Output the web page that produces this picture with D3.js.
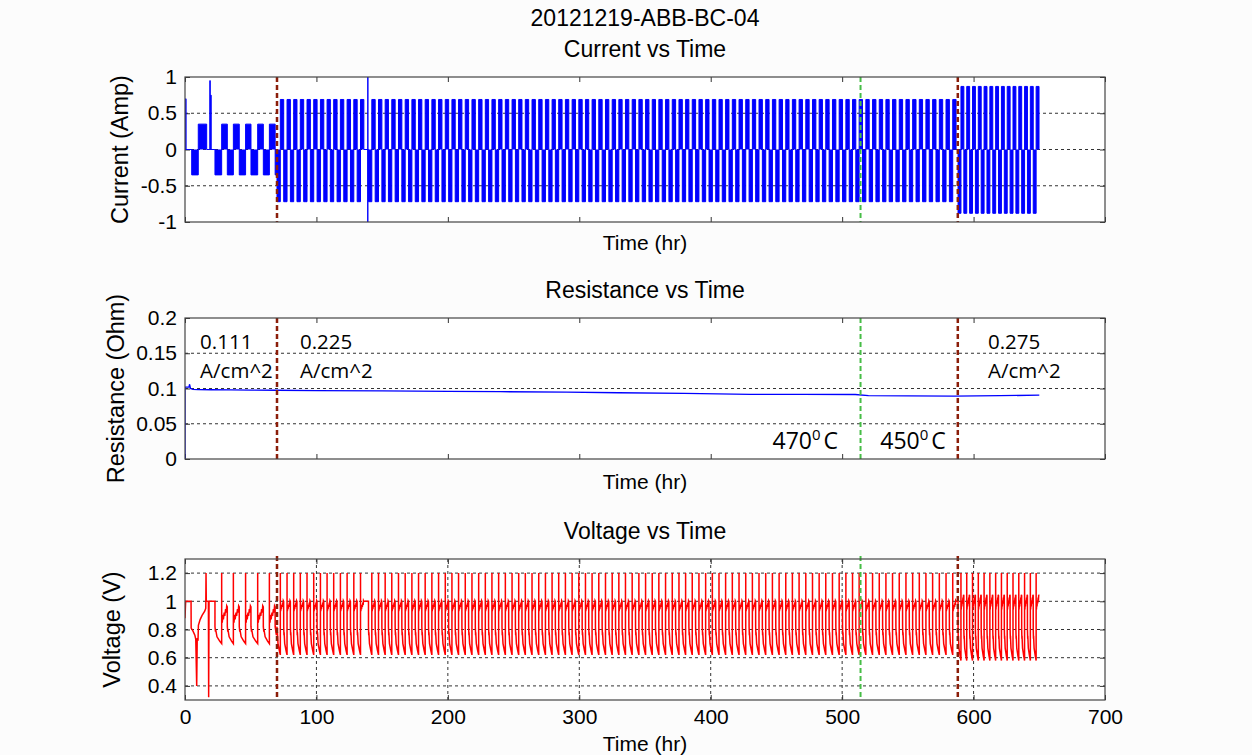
<!DOCTYPE html>
<html>
<head>
<meta charset="utf-8">
<script src="https://cdn.jsdelivr.net/npm/d3@7"></script>
<style>
body{margin:0;background:#fcfcfc;}
svg text{font-family:Arial,"Liberation Sans",sans-serif;fill:#000;}
.tick text{font-size:21px;}
.tick line{stroke:#333;}
.grid line{stroke:#333;stroke-dasharray:3,3;stroke-width:1;}
.ann{font-family:"Open Sans",sans-serif !important;font-size:20.5px;}
.temp{font-family:"Open Sans",sans-serif !important;font-size:23px;}
</style>
</head>
<body>
<div id="canvas"></div>
<script>
// ---- data ----
var figTitle = '20121219-ABB-BC-04';
var hrTicks = [0,100,200,300,400,500,600,700];
var ampTicks = [-1,-0.5,0,0.5,1];
var ohmTicks = [0,0.05,0.1,0.15,0.2];
var voltTicks = [0.4,0.6,0.8,1,1.2];

// dashed markers: current density / temperature changes
var markerHr = [70, 514, 588];
var markerColor = ['#8b1e0a', '#46bd46', '#8b1e0a'];

var densityText = ['0.111','0.225','0.275'];
var densityHr = [11.5, 87.5, 611];
var tempText = ['470','450'];
var tempHr = [447, 529];

// first 22.8 hr, irregular start-up [hr, amp]
var earlyCurrent = [[0,0],[0.5,0.7],[0.8,0],[5.1,-0.35],[10.1,0.35],[16.5,0],[18.9,0.95],[19.2,0],[19.6,0.75],[19.9,0]];
// first 22.8 hr voltage [hr, V]
var earlyVolt = [[0,0.88],[0.5,1.0],[4.6,1.0],[4.7,0.81],[6,0.79],[7.5,0.76],[8.2,0.73],[8.9,0.4],[9.3,0.74],[9.9,0.72],
  [10.2,0.83],[11.5,0.87],[13,0.9],[15,0.93],[15.8,0.95],[16.0,1.2],[16.2,1.0],[17.8,1.0],[18.0,0.32],[18.3,1.0],[22.8,1.0]];

// phase 1 (0.111 A/cm^2) cycles: start of negative half, start of positive half
var p1NegStart = [22.8, 32.2, 41.3, 50.2, 59.6];
var p1PosStart = [27.9, 36.8, 46.1, 55.3, 64.2];

// phase 2 (0.225 A/cm^2) cycle starts
var p2Start = [70.0,75.1,80.2,85.2,90.3,95.4,100.5,105.6,110.6,115.7,120.8,125.9,131.0,
  139.6,144.7,149.8,154.8,159.9,165.0,170.1,175.2,180.2,185.3,190.4,195.5,200.6,205.6,210.7,215.8,220.9,
  226.0,231.0,236.1,241.2,246.3,251.4,256.4,261.5,266.6,271.7,276.8,281.8,286.9,292.0,297.1,302.2,307.2,
  312.3,317.4,322.5,327.6,332.6,337.7,342.8,347.9,353.0,358.0,363.1,368.2,373.3,378.4,383.4,388.5,393.6,
  398.7,403.8,408.8,413.9,419.0,424.1,429.2,434.2,439.3,444.4,449.5,454.6,459.6,464.7,469.8,474.9,480.0,
  485.0,490.1,495.2,500.3,505.4,510.4,515.5,520.6,525.7,530.8,535.8,540.9,546.0,551.1,556.2,561.2,566.3,
  571.4,576.5,581.6];
// phase 3 (0.275 A/cm^2) cycle starts
var p3Start = [588.2,592.6,597.0,601.4,605.8,610.2,614.6,619.0,623.4,627.8,632.2,636.6,641.0,645.4];
var runEnd = 649.8;

var phasePeriod = [9.2, 5.08, 4.4];
var phaseAmp = [[-0.35,0.35],[-0.72,0.69],[-0.88,0.87]];
var negVolt = [[0.82,0.70],[0.82,0.62],[0.80,0.58]];   // start, end of low half
var posVolt = [[0.88,0.96],[0.95,1.0],[0.97,1.04]];    // start, end of high half
var spikeVolt = 1.2, restVolt = 1.0;
// shape of each half-cycle [fraction of half, fraction of swing]
var negShape = [[0,0],[0.08,0.3],[0.12,0.2],[0.3,0.6],[0.5,0.72],[0.7,0.85],[0.9,0.95],[1,1]];
var posShape = [[0,0],[0.1,-0.4],[0.2,0.3],[0.3,-0.1],[0.45,0.5],[0.55,0.2],[0.7,0.8],[0.8,0.5],[0.9,1.1],[1,1]];

// odd events
var spikeCurrent = [[139.0,0],[139.05,-1.3],[139.1,1.3],[139.15,0]];

var resistance = [[0,0],[0,0.102],[3,0.102],[3.5,0.106],[4.2,0.1],[6,0.0988],[10,0.0985],[20,0.0982],[35,0.098],
  [50,0.0978],[70,0.0975],[100,0.097],[150,0.0965],[200,0.096],[240,0.0955],[290,0.0948],[330,0.094],[380,0.093],
  [430,0.0918],[470,0.0917],[510,0.0915],[520,0.0898],[550,0.0895],[585,0.0893],[620,0.0898],[650,0.0905]];

// ---- build the series from the cycles ----
var current = earlyCurrent.slice(), voltage = earlyVolt.slice();

function addCycle(t0, t1, t2, ph){
  current.push([t0, phaseAmp[ph][0]], [t1, phaseAmp[ph][1]]);
  var nv = negVolt[ph], pv = posVolt[ph];
  negShape.forEach(function(s){ voltage.push([t0 + s[0]*(t1-t0), nv[0] - s[1]*(nv[0]-nv[1])]); });
  voltage.push([t1, spikeVolt]);
  posShape.forEach(function(s){ voltage.push([t1 + 0.02 + s[0]*(t2-t1-0.04), pv[0] + s[1]*(pv[1]-pv[0])]); });
}

p1NegStart.forEach(function(t, i){
  var end = i < p1NegStart.length-1 ? p1NegStart[i+1] : 68.6;
  addCycle(t, p1PosStart[i], end, 0);
});
// partial negative half before phase 2
current.push([68.6, -0.35]);
voltage.push([68.6, 0.82],[69.5, 0.76]);

function addPhase(starts, next, ph){
  var T = phasePeriod[ph];
  starts.forEach(function(t, i){
    var n = i < starts.length-1 ? starts[i+1] : next;
    var end = Math.min(n, t + T);
    addCycle(t, t + (end-t)/2, end, ph);
    if (n - end > 0.5){ current.push([end, 0]); voltage.push([end, restVolt],[n, restVolt]); }
  });
}
addPhase(p2Start, p3Start[0], 1);
addPhase(p3Start, runEnd, 2);
current.push([runEnd, 0]);
current = current.concat(spikeCurrent).sort(function(a,b){ return a[0]-b[0]; });

// ---- layout ----
var m = {l:185, w:920};
var svg = d3.select('#canvas').append('svg').attr('width',1252).attr('height',755);

var x = d3.scaleLinear().domain([0,700]).range([0,m.w]);

function makePanel(cfg){
  var g = svg.append('g').attr('transform','translate('+m.l+','+cfg.top+')');
  var y = d3.scaleLinear().domain(cfg.domain).range([cfg.h,0]);

  g.append('rect').attr('width',m.w).attr('height',cfg.h).attr('fill','#fff');

  var grid = g.append('g').attr('class','grid');
  grid.selectAll('.gy').data(cfg.ticks.filter(function(d){ return d>cfg.domain[0] && d<cfg.domain[1]; }))
    .enter().append('line')
    .attr('x1',0).attr('x2',m.w)
    .attr('y1',function(d){return y(d);}).attr('y2',function(d){return y(d);});
  if (cfg.xGrid){
    grid.selectAll('.gx').data(hrTicks.slice(1,-1)).enter().append('line')
      .attr('y1',0).attr('y2',cfg.h)
      .attr('x1',function(d){return x(d);}).attr('x2',function(d){return x(d);});
  }

  var ax = [
    g.append('g').call(d3.axisLeft(y).tickValues(cfg.ticks).tickSize(-5).tickPadding(8).tickFormat(function(d){return String(d);})),
    g.append('g').attr('transform','translate('+m.w+',0)').call(d3.axisRight(y).tickValues(cfg.ticks).tickSize(-5).tickFormat('')),
    g.append('g').call(d3.axisTop(x).tickValues(hrTicks).tickSize(-5).tickFormat('')),
    g.append('g').attr('transform','translate(0,'+cfg.h+')')
      .call(d3.axisBottom(x).tickValues(hrTicks).tickSize(-5).tickPadding(9).tickFormat(cfg.xLabels ? d3.format('d') : ''))
  ];
  ax.forEach(function(a){ a.select('.domain').remove(); });

  var clipId = 'clip' + cfg.top;
  g.append('clipPath').attr('id',clipId).append('rect').attr('width',m.w).attr('height',cfg.h);
  var plot = g.append('g').attr('clip-path','url(#'+clipId+')');

  g.append('text').attr('x',m.w/2).attr('y',-20).attr('text-anchor','middle')
    .style('font-size','23px').text(cfg.title);
  g.append('text').attr('x',m.w/2).attr('y',cfg.h+cfg.xlabY).attr('text-anchor','middle')
    .style('font-size','21px').text('Time (hr)');
  g.append('text').attr('transform','translate('+(cfg.ylabX-m.l)+','+(cfg.h/2)+') rotate(-90)')
    .attr('text-anchor','middle').attr('dy','0.35em').style('font-size','23.5px').text(cfg.ylabel);

  return {g:g, plot:plot, y:y, h:cfg.h};
}

function drawMarkers(p, ext){
  p.g.selectAll('.marker').data(markerHr).enter().append('line')
    .attr('x1',function(d){return x(d);}).attr('x2',function(d){return x(d);})
    .attr('y1',-ext).attr('y2',p.h)
    .attr('stroke',function(d,i){return markerColor[i];})
    .attr('stroke-width',function(d,i){return i==1 ? 2 : 2.5;})
    .attr('stroke-dasharray','5,3');
}

function frame(p){
  p.g.append('rect').attr('width',m.w).attr('height',p.h)
    .attr('fill','none').attr('stroke','#444').attr('stroke-width',1.2);
}

// top: current
var pc = makePanel({top:77, h:145, domain:[-1,1], ticks:ampTicks, title:'Current vs Time',
  ylabel:'Current (Amp)', ylabX:120, xlabY:28, xLabels:false});
pc.plot.append('path').datum(current)
  .attr('d', d3.area().curve(d3.curveStepAfter).x(function(d){return x(d[0]);}).y0(pc.y(0)).y1(function(d){return pc.y(d[1]);}))
  .attr('fill','#0000ff');
pc.plot.append('path').datum(current)
  .attr('d', d3.line().curve(d3.curveStepAfter).x(function(d){return x(d[0]);}).y(function(d){return pc.y(d[1]);}))
  .attr('fill','none').attr('stroke','#0000ff').attr('stroke-width',1);
drawMarkers(pc, 0);
frame(pc);

svg.append('text').attr('x',m.l+m.w/2).attr('y',26).attr('text-anchor','middle')
  .style('font-size','23px').text(figTitle);

// middle: resistance
var pr = makePanel({top:318, h:141, domain:[0,0.2], ticks:ohmTicks, title:'Resistance vs Time',
  ylabel:'Resistance (Ohm)', ylabX:116, xlabY:30, xLabels:false});
pr.plot.append('path').datum(resistance)
  .attr('d', d3.line().x(function(d){return x(d[0]);}).y(function(d){return pr.y(d[1]);}))
  .attr('fill','none').attr('stroke','#0000ff').attr('stroke-width',1.3);
drawMarkers(pr, 0);
frame(pr);

densityText.forEach(function(t, i){
  pr.g.append('text').attr('class','ann').attr('x',x(densityHr[i])).attr('y',pr.y(0.166)).attr('dy','0.35em').text(t);
  pr.g.append('text').attr('class','ann').attr('x',x(densityHr[i])).attr('y',pr.y(0.125)).attr('dy','0.35em').text('A/cm^2');
});
tempText.forEach(function(t, i){
  var tx = pr.g.append('text').attr('class','temp').attr('x',x(tempHr[i])).attr('y',pr.y(0.0255)).attr('dy','0.35em');
  tx.append('tspan').text(t);
  tx.append('tspan').attr('dy','-9').style('font-size','15px').text('0');
  tx.append('tspan').attr('dy','9').attr('dx','3').text('C');
});

// bottom: voltage
var pv = makePanel({top:559, h:141, domain:[0.3,1.3], ticks:voltTicks, title:'Voltage vs Time',
  ylabel:'Voltage (V)', ylabX:112, xlabY:51, xLabels:true, xGrid:true});
pv.plot.append('path').datum(voltage)
  .attr('d', d3.line().x(function(d){return x(d[0]);}).y(function(d){return pv.y(d[1]);}))
  .attr('fill','none').attr('stroke','#ff0000').attr('stroke-width',1.5);
drawMarkers(pv, 3);
frame(pv);
</script>
</body>
</html>
